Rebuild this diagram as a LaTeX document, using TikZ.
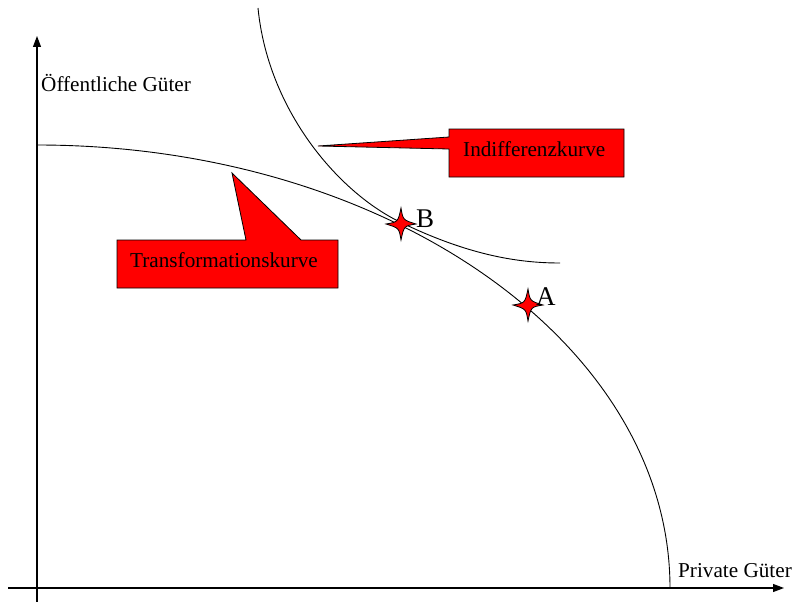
\documentclass[tikz,border=0pt]{standalone}
\usepackage{fontspec}
\setmainfont{Liberation Serif}
\usetikzlibrary{arrows.meta}
\tikzset{
  axisline/.style={line width=1.1pt,-{Triangle[length=11pt,width=8pt]}},
  curveline/.style={line width=0.9pt},
  calloutshape/.style={fill=red,draw=black,line width=0.8pt,line join=miter},
  lbl/.style={anchor=base west,inner sep=0pt,font=\fontsize{21.2}{25}\selectfont},
  ptlbl/.style={anchor=base west,inner sep=0pt,font=\fontsize{27}{30}\selectfont},
}
\newcommand{\fourstar}[1]{%
  \fill[red] (#1) ++(0,-16) .. controls ++(2,12) .. ++(15,16) .. controls ++(-12,2) .. ++(-15,16) .. controls ++(-2,-12) .. ++(-15,-16) .. controls ++(12,-2) .. ++(15,-16) -- cycle;
  \draw[line width=0.8pt] (#1) ++(0,-16) .. controls ++(2,12) .. ++(15,16) .. controls ++(-12,2) .. ++(-15,16) .. controls ++(-2,-12) .. ++(-15,-16) .. controls ++(12,-2) .. ++(15,-16) -- cycle;
}
\begin{document}
\begin{tikzpicture}[x=1pt,y=-1pt]
\useasboundingbox (0,0) rectangle (793,602);
% axes
\coordinate (origin) at (37,588);
\coordinate (ybot) at (37,602);
\coordinate (ytop) at (37,36);
\coordinate (xleft) at (8,588);
\coordinate (xright) at (784,588);
\draw[axisline] (ybot) -- (ytop);
\draw[axisline] (xleft) -- (xright);
% transformation curve (quarter ellipse)
\draw[curveline] (37,145) arc[start angle=90,end angle=0,x radius=633pt,y radius=443pt];
% indifference curve
\coordinate (ic0) at (258,8);
\coordinate (icB) at (400,222);
\coordinate (ic1) at (560,263);
\draw[curveline] (ic0) .. controls (268,110) and (338,192) .. (icB)
  .. controls (470,256) and (520,263) .. (ic1);
% callouts
\draw[calloutshape] (449,129) -- (624,129) -- (624,177) -- (449,177) -- (449,149) -- (318,146) -- (449,137) -- cycle;
\draw[calloutshape] (117,240) -- (246,240) -- (232,173) -- (301,240) -- (338,240) -- (338,288) -- (117,288) -- cycle;
\node[lbl] (indiff) at (463,156) {Indifferenzkurve};
\node[lbl] (transf) at (130,267) {Transformationskurve};
% axis labels
\node[lbl] (ylabel) at (41,92) {Öffentliche Güter};
\node[lbl] (xlabel) at (678,577) {Private Güter};
% points
\coordinate (B) at (401,224);
\coordinate (A) at (528,305);
\fourstar{B}
\fourstar{A}
\node[ptlbl] (Blbl) at (416,227) {B};
\node[ptlbl] (Albl) at (536,305) {A};
\end{tikzpicture}
\end{document}
